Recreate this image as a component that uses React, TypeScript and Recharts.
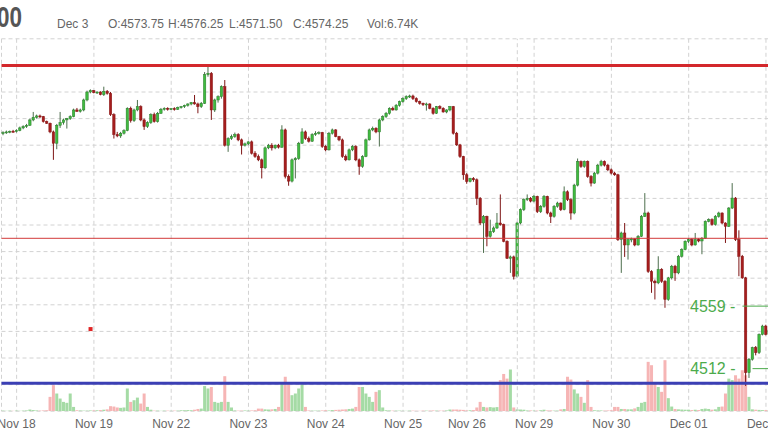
import React from 'react';
import { ComposedChart, Bar, XAxis, YAxis, CartesianGrid, ReferenceLine, ReferenceDot } from 'recharts';

// hourly ES bars, Nov 18 -> Dec 02
const opens = [
  4689, 4689.5, 4690, 4690.5, 4690.25, 4691, 4693, 4694, 4695, 4699, 4701, 4702, 4701.5, 4697.75, 4696.5, 4690, 4681.5, 4695, 4697, 4699,
  4700, 4701.5, 4706.5, 4705.5, 4706.5, 4714, 4720, 4721, 4719.5, 4720, 4718, 4720.5, 4719, 4703, 4688, 4687, 4689, 4691, 4707.75, 4698.5,
  4706.5, 4709, 4699, 4694, 4697, 4703, 4697.75, 4704, 4707, 4707.75, 4707, 4707.5, 4707, 4708.5, 4709, 4710, 4711, 4712, 4711, 4709,
  4711.5, 4733, 4734, 4706.5, 4714, 4716.5, 4724, 4680, 4685, 4686.5, 4688, 4684, 4680, 4681, 4682.5, 4674, 4671.5, 4669, 4663, 4678,
  4680, 4678, 4680, 4678.5, 4691.5, 4656.5, 4653, 4669, 4670, 4681.5, 4690, 4685, 4683, 4688, 4689, 4689.5, 4679, 4676.5, 4689, 4691.5,
  4686.5, 4684, 4671.5, 4669, 4676.5, 4679, 4669, 4664, 4671.5, 4684, 4691.5, 4692.75, 4690, 4699, 4701.5, 4704, 4707.75, 4706.5, 4710, 4712.75,
  4715, 4716.5, 4717, 4715, 4712.75, 4711.5, 4710.5, 4711, 4707.75, 4704, 4709, 4707.75, 4705, 4706.5, 4709, 4689, 4680.25, 4671.5, 4657.75, 4652.75,
  4655, 4654, 4640, 4621.5, 4626.5, 4611.5, 4615, 4617.75, 4621.5, 4620.25, 4607.75, 4595, 4596, 4581.5, 4621.5, 4631.5, 4639, 4640, 4638, 4641.5,
  4630, 4634, 4641.5, 4629, 4626.5, 4634, 4636.5, 4631.5, 4645, 4639, 4629, 4650, 4667.75, 4664, 4667.75, 4656.5, 4651.5, 4659, 4665, 4667.75,
  4665, 4661.5, 4659, 4657.75, 4609, 4614, 4605, 4609, 4609.5, 4605, 4611.5, 4626.5, 4629, 4585, 4577.75, 4576.5, 4586.5, 4577.75, 4564, 4580.25,
  4589, 4584, 4596.5, 4601.5, 4607.75, 4609, 4605, 4609, 4608, 4610, 4622.75, 4624, 4620.25, 4626.5, 4629, 4621.5, 4619, 4632.75, 4640.25, 4609,
  4596.5, 4580.25, 4509, 4519, 4527.75, 4524, 4537.75, 4544, 4537.75,
];
const highs = [
  4690.5, 4691, 4691, 4691.5, 4692, 4694, 4695, 4696, 4700, 4705, 4703, 4703, 4702, 4698.5, 4697, 4691, 4696, 4705, 4700, 4700.5,
  4702.5, 4707.5, 4708, 4707.5, 4715, 4721, 4722, 4721.5, 4720.5, 4720.5, 4724, 4721.5, 4720, 4704, 4690, 4690, 4692, 4708.5, 4709, 4707.5,
  4714, 4710, 4700, 4698, 4704, 4704.5, 4705, 4708, 4708.5, 4708.5, 4708, 4708.5, 4709, 4709.5, 4710.5, 4711.5, 4712.5, 4717.75, 4712, 4712.5,
  4735, 4740, 4735, 4715, 4717.5, 4725, 4729, 4686, 4688, 4689.5, 4689, 4685, 4682, 4683, 4683.5, 4675.5, 4673, 4670, 4679, 4681,
  4681.5, 4680.5, 4681, 4695, 4692.5, 4658, 4670, 4671, 4682.5, 4692.75, 4691, 4686.5, 4689, 4690.5, 4690.5, 4690, 4680, 4690, 4692.5, 4692,
  4687, 4685, 4673, 4677.5, 4680, 4680, 4670, 4672.5, 4685, 4692.5, 4694, 4693.5, 4700, 4702.5, 4705, 4708.5, 4709, 4711, 4713.5, 4716,
  4717.5, 4718, 4718, 4716, 4713.5, 4712, 4712, 4711.5, 4708.5, 4709.5, 4710, 4708.5, 4707, 4709.5, 4709.5, 4690, 4681, 4672, 4659, 4655.5,
  4656, 4655, 4641, 4627.5, 4627, 4624, 4619, 4629, 4643, 4621, 4608.5, 4597, 4597, 4622.5, 4632.5, 4640, 4643, 4641, 4642.5, 4642,
  4635, 4642.5, 4642, 4630, 4635, 4637.5, 4637, 4649, 4646, 4640, 4651, 4670, 4668.5, 4668.5, 4668.5, 4657.5, 4660, 4666, 4669, 4668.5,
  4666, 4662.5, 4660, 4658.5, 4615, 4621.5, 4610, 4610.5, 4610, 4612.5, 4627.5, 4644, 4630, 4586, 4579, 4596.5, 4587.5, 4578.5, 4581, 4590,
  4590, 4597.5, 4602.5, 4608.5, 4610, 4610, 4614, 4610, 4611, 4623.5, 4625, 4625, 4627.5, 4630, 4629.5, 4622, 4633.5, 4651.5, 4641, 4616,
  4597.5, 4581, 4520, 4528.5, 4529, 4538.5, 4545, 4545, 4542,
];
const lows = [
  4687.5, 4688.5, 4689, 4689.5, 4689.5, 4690.5, 4692, 4693, 4694.5, 4698, 4700, 4700.5, 4697, 4696, 4689, 4669, 4677, 4693, 4695.5, 4692.5,
  4699, 4701, 4705, 4704.5, 4705.5, 4713, 4719, 4719, 4718.5, 4717.5, 4717, 4718, 4702, 4685, 4686, 4685.5, 4688, 4690.5, 4697, 4697.5,
  4705.5, 4698, 4691.5, 4693, 4696, 4697, 4697, 4703.5, 4706, 4706, 4706.5, 4706, 4706.5, 4707.5, 4708, 4709, 4710, 4710.5, 4704, 4708,
  4711, 4731.5, 4699, 4705, 4712, 4715, 4679, 4675, 4684, 4685.5, 4683, 4673, 4679, 4680, 4673, 4670.5, 4668, 4655, 4662, 4677,
  4676, 4677, 4677.5, 4678, 4655, 4649.5, 4652, 4655, 4669, 4681, 4684, 4682, 4682.5, 4687, 4688, 4678, 4675.5, 4676, 4688, 4686,
  4683, 4670.5, 4668, 4668.5, 4675.5, 4668, 4657.75, 4663, 4671, 4683.5, 4690.5, 4689, 4679, 4698, 4700.5, 4703, 4706, 4706, 4709, 4712,
  4714, 4715.5, 4714, 4712, 4710.5, 4709.5, 4706, 4707, 4703, 4703.5, 4707, 4704.5, 4704, 4705.5, 4688, 4679.5, 4670.5, 4654, 4651, 4652,
  4652.5, 4635, 4620, 4599, 4604, 4610.5, 4614, 4617, 4619.5, 4607, 4594.5, 4584, 4579, 4580.5, 4620.5, 4630.5, 4638, 4637, 4637, 4629,
  4629, 4633, 4628, 4621.5, 4625.5, 4633, 4630.5, 4631, 4638, 4624, 4628, 4649, 4663, 4663, 4655.5, 4649, 4651, 4658, 4664, 4664,
  4660.5, 4658, 4657, 4608, 4584, 4596, 4594, 4607, 4604, 4604.5, 4611, 4626, 4584, 4569, 4564, 4575.5, 4576.5, 4557.75, 4563, 4579,
  4578, 4583, 4595.5, 4601, 4606.5, 4604, 4604.5, 4607, 4598, 4609.5, 4622, 4619.5, 4619.5, 4625.5, 4620.5, 4606.5, 4618.5, 4632, 4608, 4581.5,
  4579.5, 4499, 4505, 4518, 4522, 4523, 4537, 4537, 4537,
];
const closes = [
  4689.5, 4690, 4690.5, 4690.25, 4691, 4693, 4694, 4695, 4699, 4701, 4702, 4701.5, 4697.75, 4696.5, 4690, 4681.5, 4695, 4697, 4699, 4700,
  4701.5, 4706.5, 4705.5, 4706.5, 4714, 4720, 4721, 4719.5, 4720, 4718, 4720.5, 4719, 4703, 4688, 4687, 4689, 4691, 4707.75, 4698.5, 4706.5,
  4709, 4699, 4694, 4697, 4703, 4697.75, 4704, 4707, 4707.75, 4707, 4707.5, 4707, 4708.5, 4709, 4710, 4711, 4712, 4711, 4709, 4711.5,
  4733, 4734, 4706.5, 4714, 4716.5, 4724, 4680, 4685, 4686.5, 4688, 4684, 4680, 4681, 4682.5, 4674, 4671.5, 4669, 4663, 4678, 4680,
  4678, 4680, 4678.5, 4691.5, 4656.5, 4653, 4669, 4670, 4681.5, 4690, 4685, 4683, 4688, 4689, 4689.5, 4679, 4676.5, 4689, 4691.5, 4686.5,
  4684, 4671.5, 4669, 4676.5, 4679, 4669, 4664, 4671.5, 4684, 4691.5, 4692.75, 4690, 4699, 4701.5, 4704, 4707.75, 4706.5, 4710, 4712.75, 4715,
  4716.5, 4717, 4715, 4712.75, 4711.5, 4710.5, 4711, 4707.75, 4704, 4709, 4707.75, 4705, 4706.5, 4709, 4689, 4680.25, 4671.5, 4657.75, 4652.75, 4655,
  4654, 4640, 4621.5, 4626.5, 4611.5, 4615, 4617.75, 4621.5, 4620.25, 4607.75, 4595, 4596, 4581.5, 4621.5, 4631.5, 4639, 4640, 4638, 4641.5, 4630,
  4634, 4641.5, 4629, 4626.5, 4634, 4636.5, 4631.5, 4645, 4639, 4629, 4650, 4667.75, 4664, 4667.75, 4656.5, 4651.5, 4659, 4665, 4667.75, 4665,
  4661.5, 4659, 4657.75, 4609, 4614, 4605, 4609, 4609.5, 4605, 4611.5, 4626.5, 4629, 4585, 4577.75, 4576.5, 4586.5, 4577.75, 4564, 4580.25, 4589,
  4584, 4596.5, 4601.5, 4607.75, 4609, 4605, 4609, 4608, 4610, 4622.75, 4624, 4620.25, 4626.5, 4629, 4621.5, 4619, 4632.75, 4640.25, 4609, 4596.5,
  4580.25, 4509, 4519, 4527.75, 4524, 4537.75, 4544, 4537.75, 4541,
];
// volume in thousands of contracts
const volumes = [
  3, 2, 3, 2, 3, 2, 3, 4, 9, 6, 4, 3, 4, 5, 77, 140, 95, 68, 50, 45,
  95, 23, 5, 4, 3, 3, 4, 4, 5, 6, 8, 10, 27, 25, 20, 18, 20, 122, 50, 59,
  73, 41, 95, 23, 8, 3, 3, 2, 3, 3, 2, 3, 3, 5, 5, 6, 5, 8, 12, 14,
  135, 122, 130, 50, 45, 50, 188, 50, 20, 4, 3, 3, 4, 3, 4, 5, 14, 14, 10, 9,
  10, 12, 23, 150, 185, 150, 86, 95, 122, 145, 23, 4, 3, 3, 3, 4, 5, 4, 6, 7,
  8, 9, 10, 12, 14, 23, 130, 130, 95, 77, 50, 104, 113, 20, 5, 4, 3, 3, 3, 2,
  2, 3, 3, 2, 2, 3, 3, 3, 4, 3, 3, 3, 4, 9, 9, 9, 8, 7, 4, 5,
  6, 20, 50, 23, 20, 22, 20, 22, 167, 200, 175, 224, 20, 10, 9, 8, 4, 4, 3, 3,
  5, 8, 4, 4, 3, 3, 10, 12, 185, 170, 117, 95, 77, 45, 167, 23, 5, 4, 4, 3,
  4, 5, 23, 23, 12, 12, 10, 10, 15, 23, 45, 50, 265, 247, 150, 130, 104, 274, 70, 25,
  12, 10, 9, 8, 8, 6, 8, 6, 12, 14, 12, 8, 10, 23, 25, 95, 175, 167, 193, 175,
  220, 193, 77, 10, 8, 7, 6, 6, 5,
];

const dayTicks = [4, 27, 50, 73, 96, 119, 138, 158, 181, 204, 227];
const dayLabels = ['Nov 18', 'Nov 19', 'Nov 22', 'Nov 23', 'Nov 24', 'Nov 25', 'Nov 26', 'Nov 29', 'Nov 30', 'Dec 01', 'Dec 02'];
const priceTicks = [4480, 4500, 4520, 4540, 4560, 4580, 4600, 4620, 4640, 4660, 4680, 4700, 4720, 4740, 4760];

const rows = closes.map((c, i) => ({
  i,
  open: opens[i],
  high: highs[i],
  low: lows[i],
  close: c,
  vol: volumes[i] ?? 0,
  range: [lows[i], highs[i]],
}));

const FONT = '"Liberation Sans", Arial, sans-serif';

const Candle = (props: any) => {
  const { x, y, width, height, payload } = props;
  if (!payload || height == null) return null;
  const top = Math.min(y, y + height);
  const h = Math.abs(height);
  const k = h / (payload.high - payload.low);
  const yO = top + (payload.high - payload.open) * k;
  const yC = top + (payload.high - payload.close) * k;
  const up = payload.close >= payload.open;
  const cx = x + width / 2;
  const bw = width * 0.8;
  const bTop = Math.min(yO, yC);
  const bH = Math.max(Math.abs(yC - yO), 1);
  return (
    <g>
      <line x1={cx} x2={cx} y1={top} y2={top + h} stroke={up ? '#4d6e4d' : '#7e1515'} strokeWidth={1} />
      <rect
        x={cx - bw / 2}
        y={bTop}
        width={bw}
        height={bH}
        fill={up ? '#3fbb3f' : '#a51d1d'}
        stroke={up ? '#2a7a2a' : '#861313'}
        strokeWidth={0.5}
      />
    </g>
  );
};

const VolBar = (props: any) => {
  const { x, y, width, height, payload } = props;
  if (!payload || !height) return null;
  const up = payload.close >= payload.open;
  return (
    <rect
      x={x}
      y={Math.min(y, y + height)}
      width={width}
      height={Math.abs(height)}
      fill={up ? '#a5dba5' : '#f6b5b5'}
    />
  );
};

// day label under the plot
const DayTick = (props: any) => {
  const { x, y, payload } = props;
  const label = dayLabels[dayTicks.indexOf(payload.value)] ?? '';
  return (
    <text x={x} y={y} dy={17} textAnchor="middle" fill="#666" fontSize={12} fontFamily={FONT}>
      {label}
    </text>
  );
};

const Marker = (p: any) => <rect x={p.cx - 2} y={p.cy - 2} width={4} height={4} fill="#e02424" />;

const App = () => {
  return (
    <div style={{ position: 'absolute', left: 0, top: 0, width: 768, height: 432, background: '#fff', overflow: 'hidden', fontFamily: FONT }}>
      <ComposedChart
        width={768}
        height={432}
        data={rows}
        margin={{ top: 38.8, right: -3, bottom: 0, left: 1.5 }}
        barCategoryGap={0}
        barGap={0}
      >
        <CartesianGrid xAxisId="x" yAxisId="p" stroke="#d2d2d2" strokeDasharray="4 3" />
        <XAxis
          xAxisId="x"
          dataKey="i"
          ticks={dayTicks}
          interval={0}
          axisLine={false}
          tickLine={false}
          tickSize={0}
          tickMargin={0}
          height={20.8}
          tick={<DayTick />}
        />
        <XAxis xAxisId="v" dataKey="i" hide height={0} />
        <YAxis yAxisId="p" hide domain={[4480, 4760]} ticks={priceTicks} allowDataOverflow />
        <YAxis yAxisId="v" hide domain={[0, 2000]} allowDataOverflow />

        <ReferenceLine xAxisId="x" yAxisId="p" x={153} stroke="#d2d2d2" strokeDasharray="4 3" />

        <Bar xAxisId="v" yAxisId="v" dataKey="vol" isAnimationActive={false} shape={VolBar} />
        <Bar xAxisId="x" yAxisId="p" dataKey="range" isAnimationActive={false} shape={Candle} />

        <ReferenceLine xAxisId="x" yAxisId="p" y={4740} stroke="#d3282c" strokeWidth={3} />
        <ReferenceLine xAxisId="x" yAxisId="p" y={4610} stroke="#d23a3a" strokeWidth={1} />
        <ReferenceLine xAxisId="x" yAxisId="p" y={4501} stroke="#3b3fb4" strokeWidth={3} />

        <ReferenceLine
          xAxisId="x"
          yAxisId="p"
          segment={[{ x: 220, y: 4559 }, { x: 228, y: 4559 }]}
          stroke="#4cab4c"
          strokeWidth={1}
          label={{ value: '4559 -', position: 'left', offset: 7, fill: '#4cab4c', fontSize: 16, fontFamily: FONT }}
        />
        <ReferenceLine
          xAxisId="x"
          yAxisId="p"
          segment={[{ x: 223, y: 4512 }, { x: 228, y: 4512 }]}
          stroke="#4cab4c"
          strokeWidth={1}
          label={{ value: '4512 -', position: 'left', offset: 17, fill: '#4cab4c', fontSize: 16, fontFamily: FONT }}
        />
        <ReferenceDot xAxisId="x" yAxisId="p" x={26} y={4541.75} shape={Marker} />
      </ComposedChart>

      <svg width={768} height={40} style={{ position: 'absolute', left: 0, top: 0, pointerEvents: 'none' }}>
        <text x={-3} y={27} fontSize={30} fontWeight="bold" fill="#555" textLength={25} lengthAdjust="spacingAndGlyphs" fontFamily={FONT}>00</text>
        <g fontSize={12} fill="#666" fontFamily={FONT}>
          <text x={57} y={28}>Dec 3</text>
          <text x={108} y={28}>O:4573.75</text>
          <text x={168} y={28}>H:4576.25</text>
          <text x={229} y={28}>L:4571.50</text>
          <text x={293} y={28}>C:4574.25</text>
          <text x={367} y={28}>Vol:6.74K</text>
        </g>
      </svg>
    </div>
  );
};

export default App;
